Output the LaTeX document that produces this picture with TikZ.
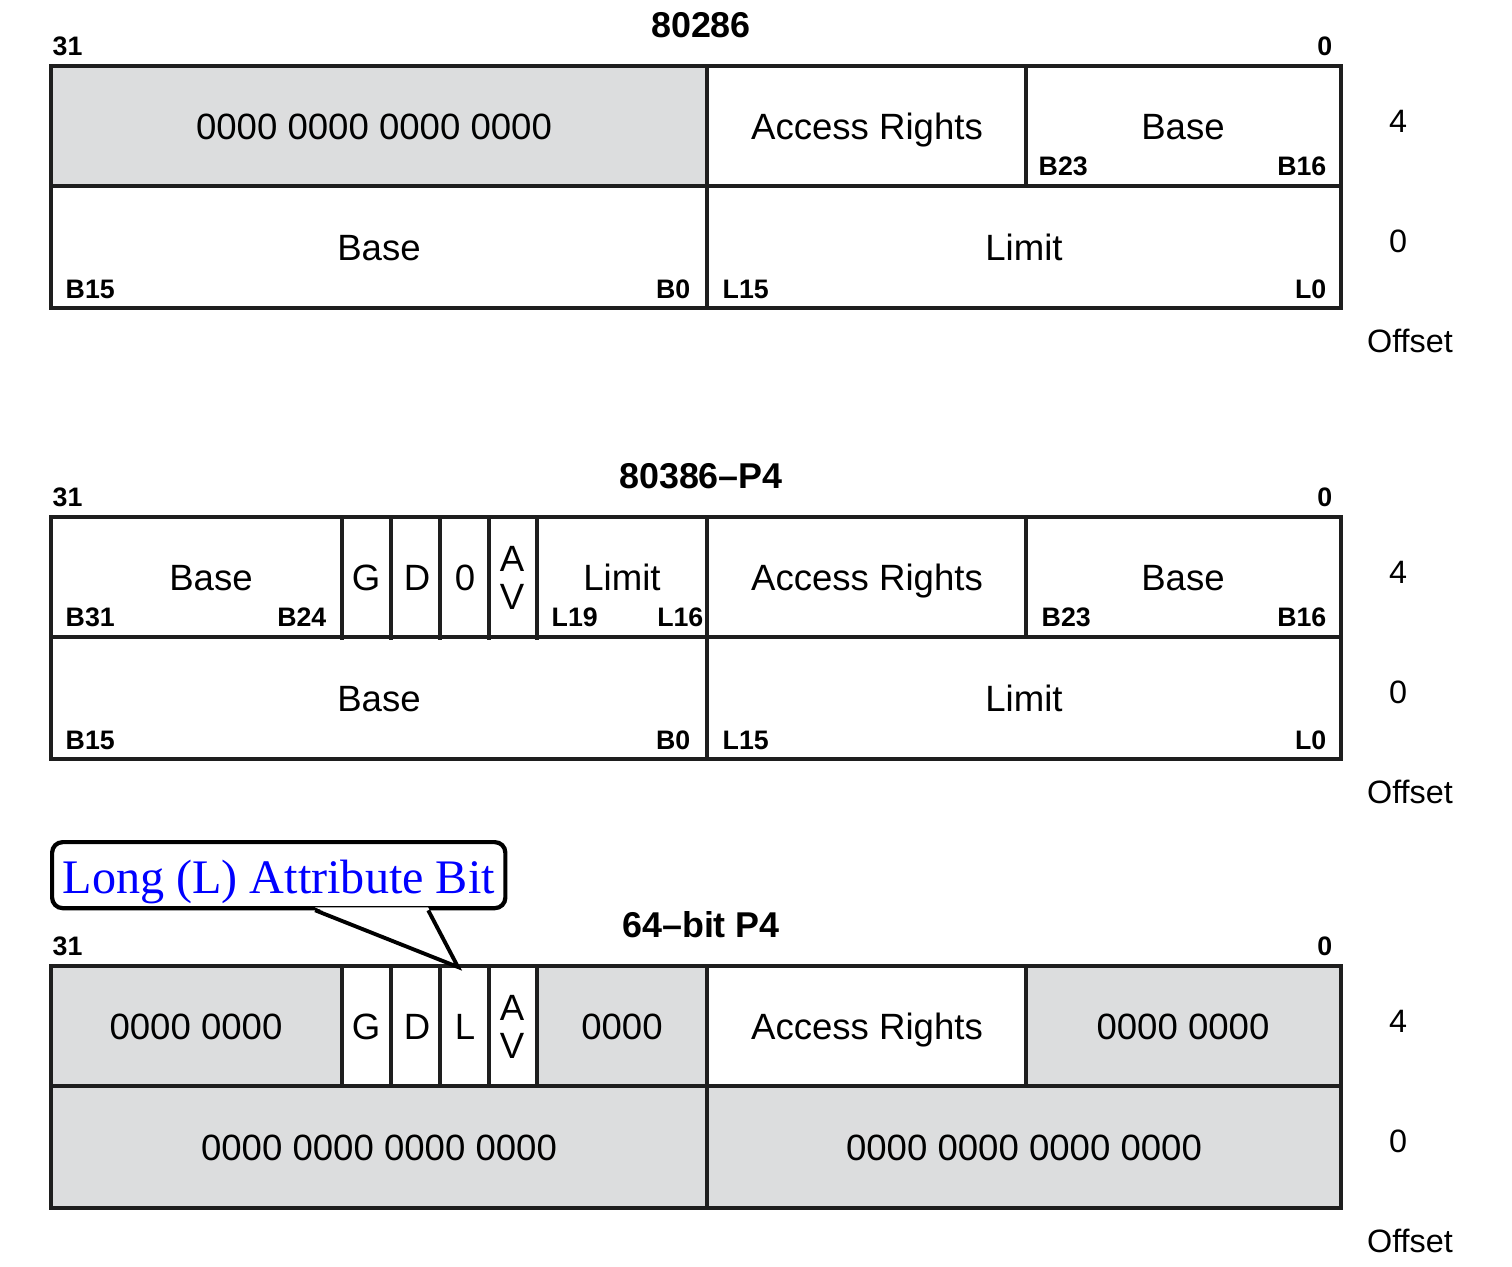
\documentclass[tikz,border=0pt]{standalone}
\usepackage{fontspec}
\setmainfont{Liberation Sans}
\newfontfamily\bubblefont{Liberation Serif}
\usepackage{xcolor}
\usetikzlibrary{positioning, calc}
\definecolor{zerofill}{HTML}{DCDDDE}
\definecolor{linegray}{HTML}{1E1E1E}

\begin{document}
\begin{tikzpicture}[x=0.01cm, y=-0.01cm,
    regbox/.style={draw=linegray, line width=1.1pt},
    zero/.style={fill=zerofill},
    fieldtext/.style={font=\fontsize{10.4}{10.6}\selectfont, inner sep=0pt, anchor=base},
    bitno/.style={font=\bfseries\fontsize{7.6}{9}\selectfont, inner sep=0pt, anchor=base west},
    heading/.style={font=\bfseries\fontsize{10.2}{12}\selectfont, inner sep=0pt, anchor=base},
    offtext/.style={font=\fontsize{9.2}{11}\selectfont, inner sep=0pt, anchor=base},
    bubble/.style={draw=black, line width=1.2pt, rounded corners=3pt, fill=white,
        text=blue, font=\bubblefont\fontsize{13.7}{16}\selectfont, inner sep=0pt,
        minimum width=4.53cm, minimum height=0.66cm, text height=0.44cm, text depth=0.08cm}]

    \useasboundingbox (0,0) rectangle (1512,1266);

    % Felder, die nur Nullen enthalten
    \fill[zero] (51,66) rectangle (707,186);
    \fill[zero] (51,966) rectangle (342,1088);
    \fill[zero] (537,966) rectangle (707,1088);
    \fill[zero] (1026,966) rectangle (1341,1088);
    \fill[zero] (51,1088) rectangle (1341,1209);

    % gemeinsamer Rahmen der drei Deskriptoren
    \foreach \dy/\ttl/\id in {0/80286/a, 451/80386–P4/b, 900/64–bit P4/c} {
        \draw[regbox] (51,66+\dy) rectangle (1341,308+\dy);
        \draw[regbox] (51,186+\dy) -- (1341,186+\dy);
        \draw[regbox] (707,66+\dy) -- (707,308+\dy);
        \draw[regbox] (1026,66+\dy) -- (1026,186+\dy);
        \node[heading] (title\id) at (701,37+\dy) {\ttl};
        \node[bitno] (hi\id) at (52,55+\dy) {31};
        \node[bitno, anchor=base east] (lo\id) at (1333,55+\dy) {0};
        \node[offtext] (four\id) at (1398,132+\dy) {4};
        \node[offtext] (nil\id) at (1398,252+\dy) {0};
        \node[offtext] (offs\id) at (1410,352+\dy) {Offset};
    }

    % Einzelbits G, D, 0/L, AV
    \foreach \x in {342,391,440,489,537} {
        \draw[regbox] (\x,517) -- (\x,640);
        \draw[regbox] (\x,966) -- (\x,1088);
    }

    % 80286
    \node[fieldtext] (za) at (374,139) {0000 0000 0000 0000};
    \node[fieldtext] (ara) at (867,139) {Access Rights};
    \node[fieldtext] (bhia) at (1183,139) {Base};
    \node[bitno] (b23a) at (1038,175) {B23};
    \node[bitno, anchor=base east] (b16a) at (1327,175) {B16};
    \node[fieldtext] (bloa) at (379,260) {Base};
    \node[bitno] (b15a) at (65,298) {B15};
    \node[bitno, anchor=base east] (b0a) at (691,298) {B0};
    \node[fieldtext] (lima) at (1024,260) {Limit};
    \node[bitno] (l15a) at (722,298) {L15};
    \node[bitno, anchor=base east] (l0a) at (1327,298) {L0};

    % 80386-P4
    \node[fieldtext] (btopb) at (211,590) {Base};
    \node[bitno] (b31b) at (65,626) {B31};
    \node[bitno, anchor=base east] (b24b) at (327,626) {B24};
    \node[fieldtext] (gb) at (366,590) {G};
    \node[fieldtext] (db) at (417,590) {D};
    \node[fieldtext] (ob) at (465,590) {0};
    \node[fieldtext, align=center, anchor=north] (avb) at (512,546) {A\\V};
    \node[fieldtext] (limhib) at (622,590) {Limit};
    \node[bitno] (l19b) at (551,626) {L19};
    \node[bitno, anchor=base east] (l16b) at (704,626) {L16};
    \node[fieldtext] (arb) at (867,590) {Access Rights};
    \node[fieldtext] (bhib) at (1183,590) {Base};
    \node[bitno] (b23b) at (1041,626) {B23};
    \node[bitno, anchor=base east] (b16b) at (1327,626) {B16};
    \node[fieldtext] (blob) at (379,711) {Base};
    \node[bitno] (b15b) at (65,749) {B15};
    \node[bitno, anchor=base east] (b0b) at (691,749) {B0};
    \node[fieldtext] (limb) at (1024,711) {Limit};
    \node[bitno] (l15b) at (722,749) {L15};
    \node[bitno, anchor=base east] (l0b) at (1327,749) {L0};

    % 64-bit P4
    \node[fieldtext] (zhic) at (196,1039) {0000 0000};
    \node[fieldtext] (gc) at (366,1039) {G};
    \node[fieldtext] (dc) at (417,1039) {D};
    \node[fieldtext] (lc) at (465,1039) {L};
    \node[fieldtext, align=center, anchor=north] (avc) at (512,995) {A\\V};
    \node[fieldtext] (zlimc) at (622,1039) {0000};
    \node[fieldtext] (arc) at (867,1039) {Access Rights};
    \node[fieldtext] (zbasec) at (1183,1039) {0000 0000};
    \node[fieldtext] (zloc) at (379,1160) {0000 0000 0000 0000};
    \node[fieldtext] (zlimloc) at (1024,1160) {0000 0000 0000 0000};

    % Sprechblase zum L-Bit
    \node[bubble, anchor=north west] (lattr) at (50,840) {Long (L) Attribute Bit};
    \coordinate (ltip) at (458,967);
    \fill[white] ([xshift=2.65cm, yshift=0.8pt]lattr.south west) -- (ltip)
        -- ([xshift=3.78cm, yshift=0.8pt]lattr.south west) -- cycle;
    \draw[regbox, draw=black] ([xshift=2.65cm]lattr.south west) -- (ltip)
        -- ([xshift=3.78cm]lattr.south west);
\end{tikzpicture}
\end{document}
